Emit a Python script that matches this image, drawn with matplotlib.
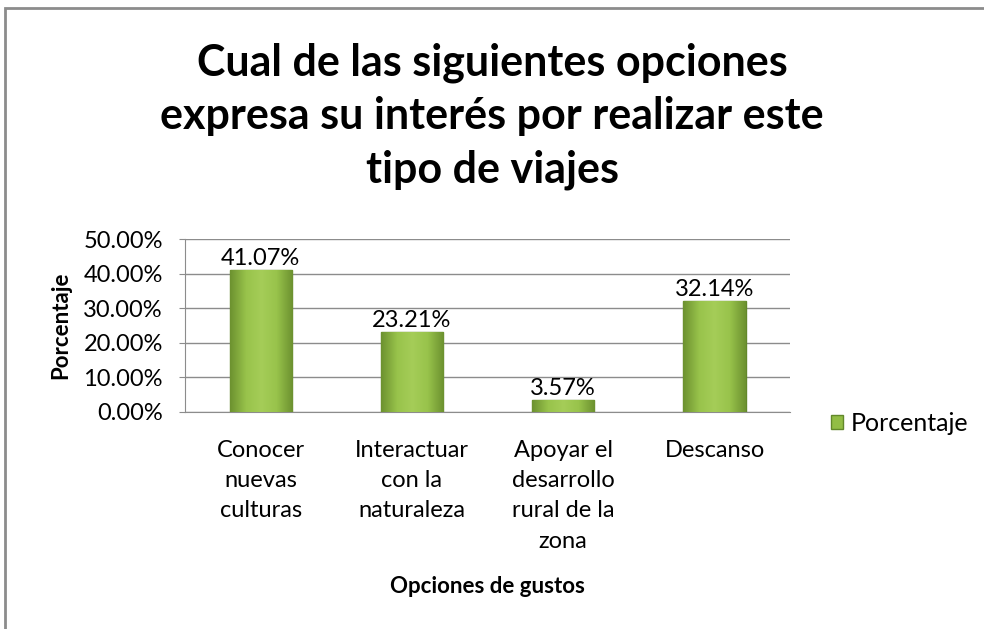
import numpy as np
import matplotlib.pyplot as plt
from matplotlib.patches import Rectangle
from matplotlib.colors import LinearSegmentedColormap
from matplotlib.ticker import PercentFormatter

# Data
categories = ['Conocer\nnuevas\nculturas', 'Interactuar\ncon la\nnaturaleza',
              'Apoyar el\ndesarrollo\nrural de la\nzona', 'Descanso']
values = [41.07, 23.21, 3.57, 32.14]
yticks = [0, 10, 20, 30, 40, 50]

plt.rcParams['font.family'] = ['Lato', 'DejaVu Sans']

fig = plt.figure(figsize=(9.84, 6.29), dpi=100)
ax = fig.add_axes([0.188, 0.345, 0.615, 0.275])

# outer chart frame (only top and left edges show in the reference)
fig.patches.append(Rectangle((0.005, -0.1), 1.2, 1.087, transform=fig.transFigure,
                             fill=False, edgecolor='#8c8c8c', linewidth=2.0))

x = np.arange(len(values))
bars = ax.bar(x, values, width=0.41, color='#92bd45', edgecolor='#62882a',
              linewidth=1.0, zorder=3, label='Porcentaje')

# horizontal shading inside each bar (dark edges, light centre)
cmap = LinearSegmentedColormap.from_list('bevel', ['#6d9230', '#98c34b', '#a5cd58', '#98c34b', '#6d9230'])
grad = np.linspace(0, 1, 64).reshape(1, -1)
for b in bars:
    im = ax.imshow(grad, cmap=cmap, aspect='auto', zorder=3.5,
                   extent=(b.get_x(), b.get_x() + b.get_width(), 0, b.get_height()))
    im.set_clip_path(b)

for xi, v in zip(x, values):
    ax.text(xi, v + 0.3, f'{v:.2f}%', ha='center', va='bottom', fontsize=17, zorder=5)

ax.set_xlim(-0.5, len(values) - 0.5)
ax.set_ylim(0, 50)
ax.set_yticks(yticks)
ax.yaxis.set_major_formatter(PercentFormatter(decimals=2))
ax.set_xticks(x)
ax.set_xticklabels(categories, fontsize=17, linespacing=1.55, va='top')
ax.tick_params(axis='x', length=0, pad=20)
ax.tick_params(axis='y', length=4, color='#8c8c8c', labelsize=17, pad=12)
ax.yaxis.grid(True, color='#8c8c8c', linewidth=1.0, zorder=0)
ax.set_axisbelow(True)
for s in ['top', 'right']:
    ax.spines[s].set_visible(False)
ax.spines['left'].set_color('#8c8c8c')
ax.spines['bottom'].set_color('#8c8c8c')

ax.set_ylabel('Porcentaje', fontsize=16, fontweight='bold', va='center')
ax.yaxis.set_label_coords(-0.205, 0.5)
ax.set_xlabel('Opciones de gustos', fontsize=16, fontweight='bold', va='center')
ax.xaxis.set_label_coords(0.5, -1.01)

ax.legend(handles=[bars[0]], labels=['Porcentaje'], loc='center left',
          bbox_to_anchor=(1.03, -0.065), frameon=False, fontsize=18,
          handlelength=0.5, handleheight=0.5, handletextpad=0.3)

fig.text(0.5, 0.815, 'Cual de las siguientes opciones\nexpresa su interés por realizar este\ntipo de viajes',
         ha='center', va='center', fontsize=31, fontweight='bold', linespacing=1.4)

fig.savefig('out.png', dpi=100)
